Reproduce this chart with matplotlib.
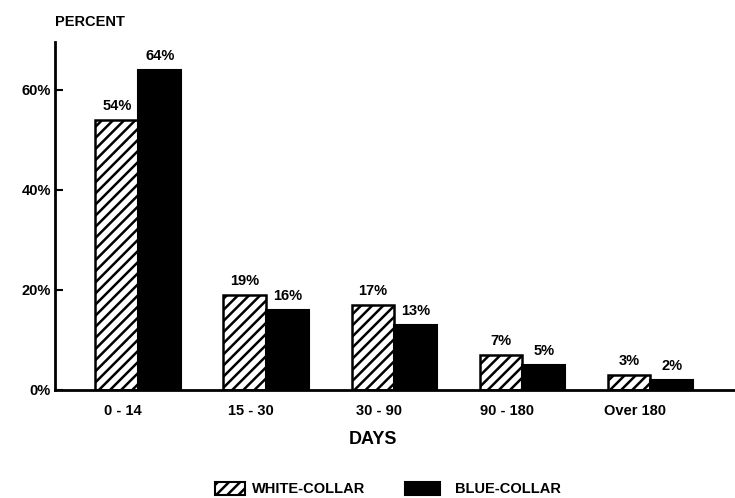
import matplotlib
matplotlib.use("Agg")
import matplotlib.pyplot as plt
import numpy as np
from matplotlib.patches import Rectangle

categories = ["0 - 14", "15 - 30", "30 - 90", "90 - 180", "Over 180"]
white_collar = [54, 19, 17, 7, 3]
blue_collar = [64, 16, 13, 5, 2]
yticks = [0, 20, 40, 60]
ytick_labels = ["0%", "20%", "40%", "60%"]

plt.rcParams['font.family'] = ['Liberation Sans', 'DejaVu Sans']
plt.rcParams['font.weight'] = 'bold'
plt.rcParams['hatch.linewidth'] = 1.8

fig = plt.figure(figsize=(7.35, 4.98), dpi=100)
ax = fig.add_axes([0.075, 0.217, 0.925, 0.699])

x = np.arange(len(categories))
w = 0.335
ax.bar(x - w/2, white_collar, w, facecolor='white', edgecolor='black',
       hatch='///', linewidth=1.8)
ax.bar(x + w/2, blue_collar, w, facecolor='black', edgecolor='black', linewidth=1.5)

for xi, v in zip(x - w/2, white_collar):
    ax.annotate(f"{v}%", (xi, v), xytext=(0, 5), textcoords='offset points',
                ha='center', va='bottom', fontsize=10.5, fontweight='bold')
for xi, v in zip(x + w/2, blue_collar):
    ax.annotate(f"{v}%", (xi, v), xytext=(0, 5), textcoords='offset points',
                ha='center', va='bottom', fontsize=10.5, fontweight='bold')

ax.set_xlim(-0.65, 4.66)
ax.set_ylim(0, 69.6)
ax.set_yticks(yticks)
ax.set_yticklabels(ytick_labels, fontsize=10.5, fontweight='bold')
ax.set_xticks(x - 0.12)
ax.set_xticklabels(categories, fontsize=10.5, fontweight='bold')
ax.tick_params(axis='x', length=0, pad=10)
ax.tick_params(axis='y', direction='in', length=6, width=1.5, pad=3)
for s in ['top', 'right']:
    ax.spines[s].set_visible(False)
ax.spines['left'].set_linewidth(2)
ax.spines['bottom'].set_linewidth(2)

fig.text(0.075, 0.955, "PERCENT", ha='left', va='center', fontsize=10.5, fontweight='bold')
fig.text(0.507, 0.117, "DAYS", ha='center', va='center', fontsize=13, fontweight='bold')

# legend
fig.patches.append(Rectangle((0.293, 0.006), 0.04, 0.026, transform=fig.transFigure,
                             facecolor='white', edgecolor='black', hatch='///', linewidth=1.5))
fig.text(0.343, 0.018, "WHITE-COLLAR", ha='left', va='center', fontsize=10.5, fontweight='bold')
fig.patches.append(Rectangle((0.551, 0.006), 0.047, 0.026, transform=fig.transFigure,
                             facecolor='black', edgecolor='black', linewidth=1.5))
fig.text(0.619, 0.018, "BLUE-COLLAR", ha='left', va='center', fontsize=10.5, fontweight='bold')

fig.savefig("out.png", dpi=100)
